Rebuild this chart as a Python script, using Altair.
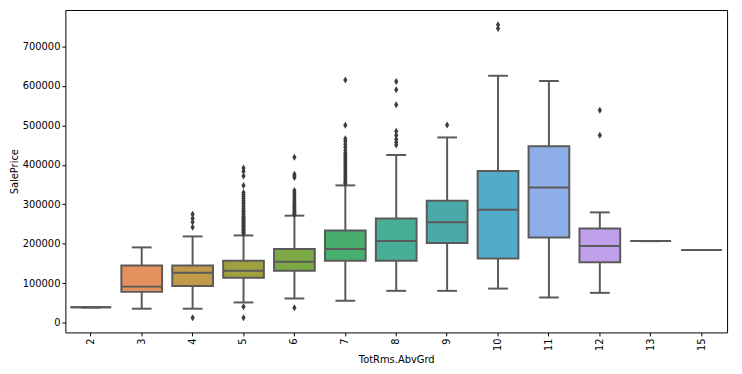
import altair as alt
import pandas as pd

cats = ["2", "3", "4", "5", "6", "7", "8", "9", "10", "11", "12", "13", "15"]
whisk_lo = [39300, 35800, 35800, 51600, 61700, 55900, 81000, 81000, 86700, 64200, 75900, 207000, 184500]
q1 = [39300, 78400, 93500, 114300, 131800, 157000, 157000, 202000, 162900, 216300, 153600, 207000, 184500]
median = [39300, 91700, 126800, 131800, 154400, 187000, 207000, 254600, 286500, 342400, 194500, 207000, 184500]
q3 = [39300, 145000, 145000, 157000, 187000, 233800, 264000, 309000, 384200, 446900, 238800, 207000, 184500]
whisk_hi = [39300, 191000, 218800, 221300, 271400, 348000, 425000, 469400, 625600, 612300, 279700, 207000, 184500]
colors = ["#e1818d", "#e4915f", "#c09a48", "#a0a03f", "#7ba845", "#48ae6f", "#48ae96",
          "#4aaaa9", "#52abcb", "#8eaee9", "#c0a0ea", "#db8ad8", "#e485b5"]

outliers_4 = [12800, 242000, 255000, 264000, 275000]
outliers_5 = [13100, 41000, 226000, 228000, 230000, 233000, 235000, 237000, 240000, 243000,
              245000, 248000, 250000, 253000, 255000, 258000, 260000, 263000, 265000, 268000,
              270000, 274000, 278000, 282000, 285000, 290000, 295000, 300000, 305000, 310000,
              315000, 320000, 325000, 330000, 348000, 372000, 384000, 392000]
outliers_6 = [37900, 274000, 277000, 280000, 283000, 286000, 290000, 293000, 296000, 300000,
              305000, 310000, 315000, 320000, 325000, 330000, 335000, 368000, 372000, 376000,
              419000]
outliers_7 = [352000, 355000, 360000, 365000, 370000, 375000, 380000, 385000, 390000, 395000,
              400000, 405000, 410000, 415000, 420000, 425000, 430000, 437000, 445000, 452000,
              460000, 466000, 500000, 615000]
outliers_8 = [450000, 457000, 465000, 475000, 485000, 552000, 590000, 611000]
outliers_9 = [501000]
outliers_10 = [745000, 755000]
outliers_12 = [475000, 538000]

box_df = pd.DataFrame({"cat": cats, "lo": whisk_lo, "q1": q1, "med": median,
                       "q3": q3, "hi": whisk_hi})
out_rows = []
for c, vals in [("4", outliers_4), ("5", outliers_5), ("6", outliers_6), ("7", outliers_7),
                ("8", outliers_8), ("9", outliers_9), ("10", outliers_10), ("12", outliers_12)]:
    for v in vals:
        out_rows.append({"cat": c, "v": v})
out_df = pd.DataFrame(out_rows)

line_col = "#5a5a5a"
font = "DejaVu Sans"

x_enc = alt.X("cat:N", sort=cats,
              scale=alt.Scale(domain=cats, paddingInner=0.2, paddingOuter=0.1),
              axis=alt.Axis(title="TotRms.AbvGrd", labelAngle=270, grid=False, domain=False,
                            tickColor="#000000", tickSize=3.5, labelPadding=2,
                            labelFont=font, labelFontSize=10, labelColor="#000000",
                            titleFont=font, titleFontSize=10, titleFontWeight="normal",
                            titleColor="#000000", titlePadding=4))
yscale = alt.Scale(domain=[-24321, 792110], nice=False, zero=False)
y_axis = alt.Axis(title="SalePrice", values=list(range(0, 800000, 100000)), format="d",
                  grid=False, domain=False, tickColor="#000000", tickSize=3.5, labelPadding=2,
                  labelFont=font, labelFontSize=10, labelColor="#000000",
                  titleFont=font, titleFontSize=10, titleFontWeight="normal",
                  titleColor="#000000", titlePadding=3)

base = alt.Chart(box_df)

whiskers = base.mark_rule(color=line_col, strokeWidth=2).encode(
    x=x_enc, y=alt.Y("lo:Q", scale=yscale, axis=y_axis), y2="hi:Q")

boxes = base.mark_bar(stroke=line_col, strokeWidth=2, opacity=1).encode(
    x=x_enc, y=alt.Y("q1:Q", scale=yscale), y2="q3:Q",
    color=alt.Color("cat:N", scale=alt.Scale(domain=cats, range=colors), legend=None))

med_tick = base.mark_tick(color=line_col, thickness=2, size=41, opacity=1).encode(
    x=x_enc, y=alt.Y("med:Q", scale=yscale))
cap_lo = base.mark_tick(color=line_col, thickness=2, size=20, opacity=1).encode(
    x=x_enc, y=alt.Y("lo:Q", scale=yscale))
cap_hi = base.mark_tick(color=line_col, thickness=2, size=20, opacity=1).encode(
    x=x_enc, y=alt.Y("hi:Q", scale=yscale))

fliers = alt.Chart(out_df).mark_point(
    shape="M0,-1L0.6,0L0,1L-0.6,0Z", filled=True, color="#3d3d3d", size=50, opacity=1
).encode(x=x_enc, y=alt.Y("v:Q", scale=yscale))

chart = alt.layer(whiskers, boxes, med_tick, cap_lo, cap_hi, fliers).properties(
    width=669, height=326,
    autosize=alt.AutoSizeParams(type="none"),
    padding={"left": 58, "top": 0, "right": 7, "bottom": 40},
).configure_view(stroke="#000000", strokeWidth=1)

chart.save("out.html", embed_options={"renderer": "svg", "actions": False})
